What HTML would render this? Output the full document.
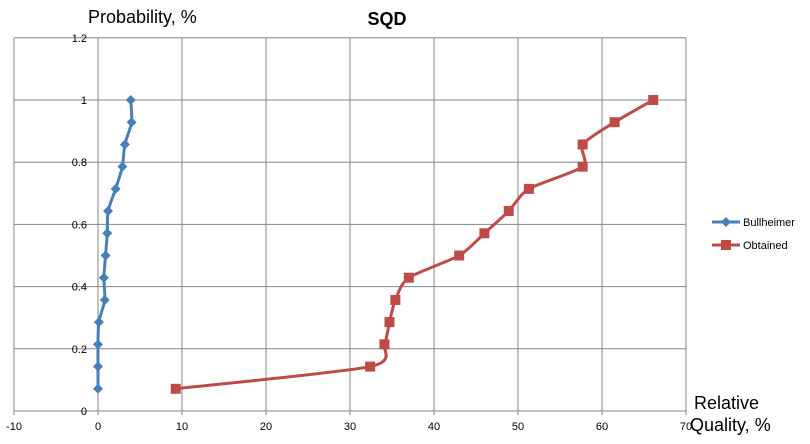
<!DOCTYPE html>
<html><head><meta charset="utf-8"><style>
body{margin:0;background:#fff;font-family:"Liberation Sans",sans-serif}
</style></head><body>
<svg id="c" width="810" height="444" style="display:block">
<rect width="810" height="444" fill="#fff"/>
</svg>
<script>
const yVals=[0.0714,0.1429,0.2143,0.2857,0.3571,0.4286,0.5,0.5714,0.6429,0.7143,0.7857,0.8571,0.9286,1];
const bullheimer=[0,0,0,0.1,0.8,0.7,0.9,1.1,1.2,2.1,2.9,3.2,4.0,3.9];
const obtained=[9.25,32.4,34.1,34.7,35.4,37.0,43.0,46.0,48.9,51.3,57.7,57.7,61.5,66.1];
const xTicks=[-10,0,10,20,30,40,50,60,70];
const yTicks=[0,0.2,0.4,0.6,0.8,1,1.2];
const NS='http://www.w3.org/2000/svg';
const svg=document.getElementById('c');
const X=v=>98+v*8.4, Y=v=>411-v*311;
function el(t,a,p){const e=document.createElementNS(NS,t);for(const k in a)e.setAttribute(k,a[k]);(p||svg).appendChild(e);return e;}
const grid=el('g',{});


xTicks.forEach(t=>{if(t!==0)el('line',{x1:X(t),x2:X(t),y1:Y(1.2),y2:Y(0),stroke:'#868686'},grid);});
yTicks.forEach(t=>{el('line',{x1:X(-10),x2:X(70),y1:Y(t),y2:Y(t),stroke:'#868686'},grid);});
el('line',{x1:X(0),x2:X(0),y1:Y(1.2),y2:Y(0)+4,stroke:'#868686'},grid);
xTicks.forEach(t=>{el('line',{x1:X(t),x2:X(t),y1:Y(0),y2:Y(0)+4,stroke:'#868686'},grid);
 const tx=el('text',{x:X(t),y:430,'font-size':11,'text-anchor':'middle',fill:'#000'});tx.textContent=t;
 });
yTicks.forEach(t=>{const tx=el('text',{x:87,y:Y(t)+4,'font-size':11,'text-anchor':'end',fill:'#000'});tx.textContent=t;
 });
function smooth(pts){let d='M'+pts[0][0]+','+pts[0][1];
 for(let i=0;i<pts.length-1;i++){const p0=pts[i-1]||pts[i],p1=pts[i],p2=pts[i+1],p3=pts[i+2]||p2;
  const t=1/8;d+=' C'+(p1[0]+(p2[0]-p0[0])*t)+','+(p1[1]+(p2[1]-p0[1])*t)+' '+(p2[0]-(p3[0]-p1[0])*t)+','+(p2[1]-(p3[1]-p1[1])*t)+' '+p2[0]+','+p2[1];}
 return d;}
function series(vals,color,name,shape){const g=el('g',{});
 
 const pts=vals.map((v,i)=>[X(v),Y(yVals[i])]);
 el('path',{d:smooth(pts),fill:'none',stroke:color,'stroke-width':3},g);
 pts.forEach(p=>{let m;
  if(shape==='d')m=el('path',{d:`M${p[0]},${p[1]-5}L${p[0]+5},${p[1]}L${p[0]},${p[1]+5}L${p[0]-5},${p[1]}Z`,fill:color},g);
  else m=el('rect',{x:p[0]-5,y:p[1]-5,width:10,height:10,fill:color},g);
  });}
series(bullheimer,'#4a7ebb','bullheimer','d');
series(obtained,'#be4b48','obtained','s');
</script>
<svg style="position:absolute;left:0;top:0" width="810" height="444">
<text x="387" y="25" font-size="18" font-weight="bold" text-anchor="middle" font-family="Liberation Sans">SQD</text>
<text x="88" y="23" font-size="18" font-family="Liberation Sans">Probability, %</text>
<text x="694" y="409" font-size="18" font-family="Liberation Sans"><tspan x="694">Relative</tspan><tspan x="690" dy="22">Quality, %</tspan></text>
<g font-family="Liberation Sans" font-size="11">
<line x1="712" x2="740" y1="222" y2="222" stroke="#4a7ebb" stroke-width="3"/>
<path d="M726,217L731,222L726,227L721,222Z" fill="#4a7ebb"/>
<text x="743" y="226">Bullheimer</text>
<line x1="712" x2="740" y1="245" y2="245" stroke="#be4b48" stroke-width="3"/>
<rect x="721" y="240" width="10" height="10" fill="#be4b48"/>
<text x="743" y="249">Obtained</text>
</g>
</svg>
</body></html>
